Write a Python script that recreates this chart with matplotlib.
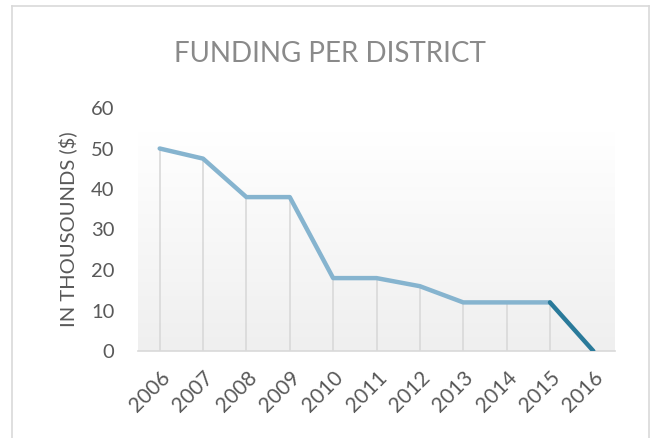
import numpy as np
import matplotlib.pyplot as plt
from matplotlib.colors import LinearSegmentedColormap
from matplotlib.lines import Line2D

# data
years = ["2006", "2007", "2008", "2009", "2010", "2011", "2012", "2013", "2014", "2015", "2016"]
funding = [50, 47.5, 38, 38, 18, 18, 16, 12, 12, 12, 0]
y_ticks = [0, 10, 20, 30, 40, 50, 60]

plt.rcParams['font.family'] = ['Lato', 'DejaVu Sans']

fig = plt.figure(figsize=(6.55, 4.38), dpi=100)
fig.patch.set_facecolor("white")

# outer chart border (left, top, right; bottom is cut off)
bx0, bx1, by = 11.5 / 655, 648.5 / 655, 1 - 5.5 / 438
for xs, ys in [([bx0, bx0], [0, by]), ([bx0, bx1], [by, by]), ([bx1, bx1], [by, 0])]:
    fig.lines.append(Line2D(xs, ys, transform=fig.transFigure, color="#d9d9d9", linewidth=1.2))

ax = fig.add_axes([138 / 655, (438 - 351) / 438, (615 - 138) / 655, (351 - 108) / 438])
x = np.arange(len(years))

# plot area gradient (light grey -> white)
grad = np.linspace(0, 1, 256).reshape(-1, 1)
ax.imshow(grad, extent=(0, 1, 0, 0.9), transform=ax.transAxes, aspect="auto",
          cmap=LinearSegmentedColormap.from_list("g", ["#efefef", "#ffffff"]),
          origin="lower", zorder=0)

# drop lines
ax.vlines(x, 0, funding, color="#d9d9d9", linewidth=1.2, zorder=1)

# line
ax.plot(x[:-1], funding[:-1], color="#86b4cf", linewidth=3.2, solid_capstyle="round",
        solid_joinstyle="round", zorder=3)
ax.plot(x[-2:], funding[-2:], color="#2a7a9a", linewidth=3.2, solid_capstyle="round", zorder=3)

ax.set_xlim(-0.5, len(years) - 0.5)
ax.set_ylim(0, 60)
ax.set_yticks(y_ticks)
ax.set_xticks(x)
ax.set_xticklabels(years, rotation=45, ha="right", rotation_mode="anchor")
ax.tick_params(axis="both", length=0, labelcolor="#595959")
ax.tick_params(axis="y", pad=17, labelsize=14.5)
ax.tick_params(axis="x", pad=12, labelsize=15)

for s in ["top", "right", "left"]:
    ax.spines[s].set_visible(False)
ax.spines["bottom"].set_color("#d9d9d9")
ax.spines["bottom"].set_linewidth(1.2)
ax.set_facecolor("white")

ax.set_ylabel("IN THOUSOUNDS ($)", fontsize=14.5, color="#595959", labelpad=10)
fig.text(330 / 655, 1 - 54 / 438, "FUNDING PER DISTRICT", fontsize=20, color="#8a8a8a",
         ha="center", va="center")

plt.savefig("out.png", dpi=100)
